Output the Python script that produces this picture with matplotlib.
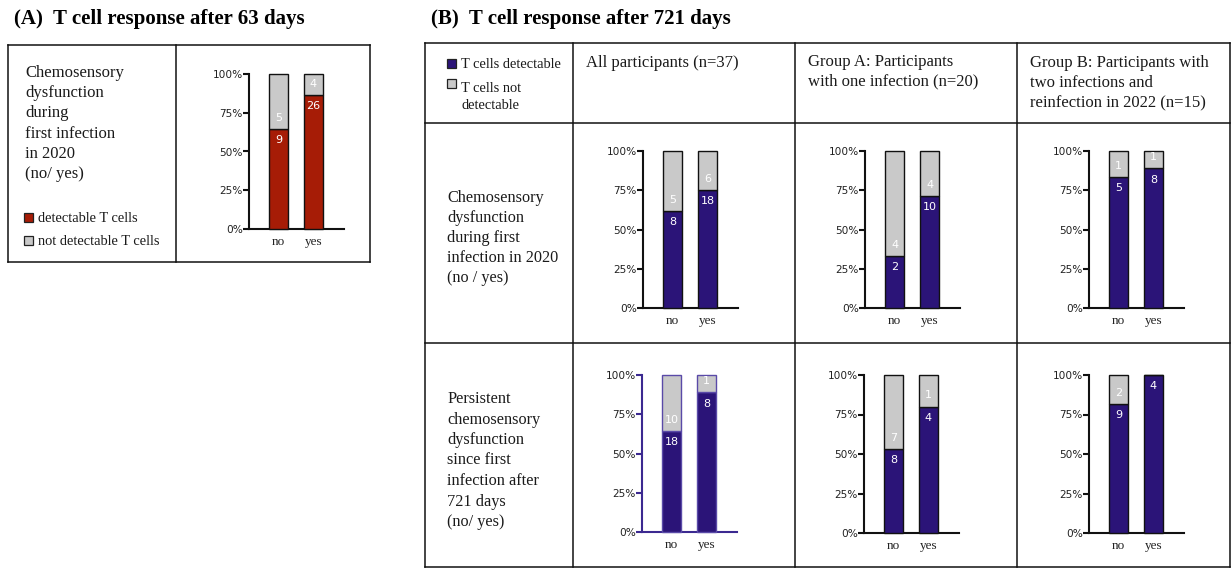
import numpy as np
import matplotlib.pyplot as plt

# counts per chemosensory group (no / yes)
cats = ['no', 'yes']

a_detect = [9, 26]
a_not = [5, 4]

all_r1_detect = [8, 18]
all_r1_not = [5, 6]
grpA_r1_detect = [2, 10]
grpA_r1_not = [4, 4]
grpB_r1_detect = [5, 8]
grpB_r1_not = [1, 1]

all_r2_detect = [18, 8]
all_r2_not = [10, 1]
grpA_r2_detect = [8, 4]
grpA_r2_not = [7, 1]
grpB_r2_detect = [9, 4]
grpB_r2_not = [2, 0]

RED = '#a61c06'
PURPLE = '#2b1478'
GREY = '#c9c9c9'
SERIF = 'Liberation Serif'

W, H = 1231, 568
fig = plt.figure(figsize=(W / 100, H / 100), dpi=100)
bg = fig.add_axes([0, 0, 1, 1])
bg.set_xlim(0, W)
bg.set_ylim(H, 0)
bg.axis('off')


def px_axes(x0, y0, x1, y1):
    return fig.add_axes([x0 / W, 1 - y1 / H, (x1 - x0) / W, (y1 - y0) / H])


def line(x0, y0, x1, y1):
    bg.plot([x0, x1], [y0, y1], color='#111111', lw=1.1, solid_capstyle='projecting')


def text_lines(x, y0, step, lines, size=12):
    for i, t in enumerate(lines):
        bg.text(x, y0 + i * step, t, fontsize=size, family=SERIF, va='baseline', color='#1a1a1a')


def square(x, y, color):
    bg.add_patch(plt.Rectangle((x, y), 9, 9, facecolor=color, edgecolor='#222222', lw=0.9))


def bar_panel(X, T, B, det, nd, color, spine='#111111', edge='#111111'):
    ax = px_axes(X, T, X + 95, B)
    det = np.array(det, dtype=float)
    nd = np.array(nd, dtype=float)
    pd = 100 * det / (det + nd)
    pn = 100 - pd
    x = np.arange(len(cats))
    w = 19 / 35
    ax.bar(x, pd, width=w, color=color, edgecolor=edge, lw=1, clip_on=False, zorder=3)
    ax.bar(x, pn, bottom=pd, width=w, color=GREY, edgecolor=edge, lw=1, clip_on=False, zorder=3)
    for i in range(len(x)):
        ax.annotate(str(int(det[i])), (x[i], pd[i]), xytext=(0, -8), textcoords='offset points',
                    ha='center', va='center', color='white', fontsize=8, zorder=4)
        if nd[i] > 0:
            ax.annotate(str(int(nd[i])), (x[i], pd[i]), xytext=(0, 8), textcoords='offset points',
                        ha='center', va='center', color='white', fontsize=8, zorder=4)
    ax.set_xlim(-29.5 / 35, 65.5 / 35)
    ax.set_ylim(0, 100)
    ax.set_yticks([0, 25, 50, 75, 100])
    ax.set_yticklabels(['0%', '25%', '50%', '75%', '100%'])
    ax.set_xticks(x)
    ax.set_xticklabels(cats, family=SERIF, fontsize=9.5)
    for s in ['top', 'right']:
        ax.spines[s].set_visible(False)
    for s in ['left', 'bottom']:
        ax.spines[s].set_linewidth(1.5)
        ax.spines[s].set_color(spine)
    ax.tick_params(axis='y', direction='out', length=4, width=1.5, color=spine,
                   labelsize=7.6, labelcolor='#222222', pad=0.5)
    ax.tick_params(axis='x', length=0, pad=5, labelcolor='#222222')
    ax.patch.set_alpha(0)
    return ax


# ---- panel A ----
bg.text(14, 24, '(A)  T cell response after 63 days', fontsize=15, fontweight='bold',
        family=SERIF, va='baseline')
line(8, 45, 370, 45)
line(8, 262, 370, 262)
line(8, 45, 8, 262)
line(370, 45, 370, 262)
line(176, 45, 176, 262)
text_lines(25, 77, 20.2, ['Chemosensory', 'dysfunction', 'during', 'first infection',
                          'in 2020', '(no/ yes)'])
square(24, 213, RED)
square(24, 236, GREY)
bg.text(38, 222, 'detectable T cells', fontsize=10.4, family=SERIF, va='baseline', color='#1a1a1a')
bg.text(38, 245, 'not detectable T cells', fontsize=10.4, family=SERIF, va='baseline', color='#1a1a1a')
bar_panel(249, 74, 229, a_detect, a_not, RED)

# ---- panel B ----
bg.text(431, 24, '(B)  T cell response after 721 days', fontsize=15, fontweight='bold',
        family=SERIF, va='baseline')
cols = [425, 573, 795, 1017, 1230]
rows = [43, 123, 343, 567]
for y in rows:
    line(cols[0], y, cols[-1], y)
for xc in cols:
    line(xc, rows[0], xc, rows[-1])

square(447, 59, PURPLE)
square(447, 79, GREY)
bg.text(461, 68, 'T cells detectable', fontsize=10.4, family=SERIF, va='baseline', color='#1a1a1a')
bg.text(461, 92, 'T cells not', fontsize=10.4, family=SERIF, va='baseline', color='#1a1a1a')
bg.text(461, 109, 'detectable', fontsize=10.4, family=SERIF, va='baseline', color='#1a1a1a')

text_lines(586, 67, 20, ['All participants (n=37)'])
text_lines(808, 66, 19.5, ['Group A: Participants', 'with one infection (n=20)'])
text_lines(1030, 67, 20, ['Group B: Participants with', 'two infections and',
                          'reinfection in 2022 (n=15)'])

text_lines(447, 202, 20, ['Chemosensory', 'dysfunction', 'during first',
                          'infection in 2020', '(no / yes)'], size=11.7)
text_lines(447, 403, 20.5, ['Persistent', 'chemosensory', 'dysfunction', 'since first',
                            'infection after', '721 days', '(no/ yes)'], size=11.7)

bar_panel(643, 151, 308, all_r1_detect, all_r1_not, PURPLE)
bar_panel(865, 151, 308, grpA_r1_detect, grpA_r1_not, PURPLE)
bar_panel(1089, 151, 308, grpB_r1_detect, grpB_r1_not, PURPLE)

bar_panel(642, 375, 532, all_r2_detect, all_r2_not, PURPLE, spine='#3b2990', edge='#5a4aa8')
bar_panel(864, 375, 533, grpA_r2_detect, grpA_r2_not, PURPLE)
bar_panel(1089, 375, 533, grpB_r2_detect, grpB_r2_not, PURPLE)

fig.savefig('out.png', dpi=100)
